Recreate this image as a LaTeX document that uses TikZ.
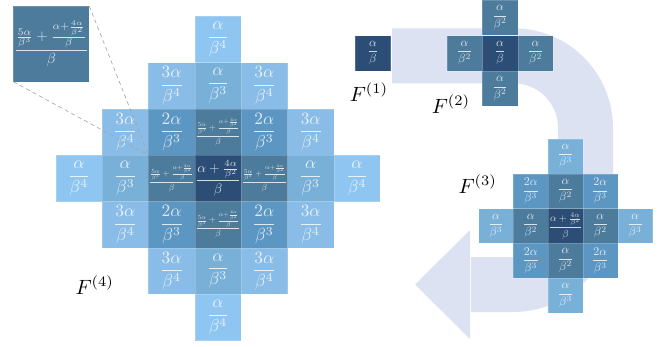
\documentclass[tikz,border=0pt]{standalone}
\usepackage{amsmath}
\usepackage{graphicx}
\definecolor{cDark}{RGB}{44,77,117}
\definecolor{cMid}{RGB}{76,123,156}
\definecolor{cTwo}{RGB}{92,150,194}
\definecolor{cThree}{RGB}{120,176,216}
\definecolor{cThreeFour}{RGB}{137,188,230}
\definecolor{cFour}{RGB}{143,198,241}
\definecolor{lav}{RGB}{221,226,243}
\newcommand{\Xfrac}{\displaystyle\frac{\frac{5\alpha}{\beta^3}+\frac{\alpha+\frac{4\alpha}{\beta^2}}{\beta}}{\beta}}
\newcommand{\Cfrac}{\displaystyle\frac{\alpha+\frac{4\alpha}{\beta^2}}{\beta}}
\newcommand{\Cell}[6]{\node[#1, fill=#5] (#2) at ({\cx+#3*\s},{\cy+#4*\s}) {\scalebox{\sc}{#6}};}
\newcommand{\Rcell}[6]{\node[#1, fill=#5] (#2) at ({\cx+#3*\s},{\cy+#4*\s}) {#6};}
\begin{document}
\begin{tikzpicture}[x=0.75pt,y=-0.75pt,
  cellbase/.style={rectangle, inner sep=0pt, outer sep=0pt, text=white, text opacity=0.8, draw=white, draw opacity=0.18, line width=0.3pt, anchor=center},
  cellF/.style={cellbase, minimum size=34.76pt},
  cellT/.style={cellbase, minimum size=26.1pt},
  cellD/.style={cellbase, minimum size=26.6pt},
  lab/.style={inner sep=0pt},
  bigarrow/.style={draw=lav, line width=41.25pt, rounded corners=54pt},
  zoomline/.style={draw=black!35, line width=0.5pt, dash pattern=on 3pt off 2.5pt}
]
\useasboundingbox (0,0) rectangle (670,346);
% big U-shaped arrow
\coordinate (A0) at (392,55.8);
\coordinate (A1) at (585.5,55.8);
\coordinate (A2) at (585.5,284.5);
\coordinate (A3) at (471,284.5);
\draw[bigarrow] (A0) -- (A1) -- (A2) -- (A3);
\coordinate (T1) at (470,230);
\coordinate (T2) at (415,284.5);
\coordinate (T3) at (470,339);
\fill[lav] (T1) -- (T2) -- (T3) -- cycle;

% F(1)
\def\sc{0.9}
\def\cx{372.9}\def\cy{53.3}\def\s{35.5}
\Cell{cellD}{p0}{0}{0}{cDark}{$\dfrac{\alpha}{\beta}$}

% F(2)
\def\cx{500}\def\cy{53.25}\def\s{35.5}
\Cell{cellD}{q0}{0}{0}{cDark}{$\dfrac{\alpha}{\beta}$}
\Cell{cellD}{qn}{0}{-1}{cMid}{$\dfrac{\alpha}{\beta^2}$}
\Cell{cellD}{qs}{0}{1}{cMid}{$\dfrac{\alpha}{\beta^2}$}
\Cell{cellD}{qw}{-1}{0}{cMid}{$\dfrac{\alpha}{\beta^2}$}
\Cell{cellD}{qe}{1}{0}{cMid}{$\dfrac{\alpha}{\beta^2}$}

% F(3)
\def\cx{565.5}\def\cy{225.9}\def\s{34.8}
\Cell{cellT}{r1}{0}{-2}{cThree}{$\dfrac{\alpha}{\beta^3}$}
\Cell{cellT}{r2}{-1}{-1}{cTwo}{$\dfrac{2\alpha}{\beta^3}$}
\Cell{cellT}{r3}{0}{-1}{cMid}{$\dfrac{\alpha}{\beta^2}$}
\Cell{cellT}{r4}{1}{-1}{cTwo}{$\dfrac{2\alpha}{\beta^3}$}
\Cell{cellT}{r5}{-2}{0}{cThree}{$\dfrac{\alpha}{\beta^3}$}
\Cell{cellT}{r6}{-1}{0}{cMid}{$\dfrac{\alpha}{\beta^2}$}
\Rcell{cellT}{r7}{0}{0}{cDark}{\resizebox{25pt}{!}{$\Cfrac$}}
\Cell{cellT}{r8}{1}{0}{cMid}{$\dfrac{\alpha}{\beta^2}$}
\Cell{cellT}{r9}{2}{0}{cThree}{$\dfrac{\alpha}{\beta^3}$}
\Cell{cellT}{r10}{-1}{1}{cTwo}{$\dfrac{2\alpha}{\beta^3}$}
\Cell{cellT}{r11}{0}{1}{cMid}{$\dfrac{\alpha}{\beta^2}$}
\Cell{cellT}{r12}{1}{1}{cTwo}{$\dfrac{2\alpha}{\beta^3}$}
\Cell{cellT}{r13}{0}{2}{cThree}{$\dfrac{\alpha}{\beta^3}$}

% F(4)
\def\sc{1.3}
\def\cx{218}\def\cy{178.4}\def\s{46.35}
\Cell{cellF}{a1}{0}{-3}{cFour}{$\dfrac{\alpha}{\beta^4}$}
\Cell{cellF}{a2}{-1}{-2}{cThreeFour}{$\dfrac{3\alpha}{\beta^4}$}
\Cell{cellF}{a3}{0}{-2}{cThree}{$\dfrac{\alpha}{\beta^3}$}
\Cell{cellF}{a4}{1}{-2}{cThreeFour}{$\dfrac{3\alpha}{\beta^4}$}
\Cell{cellF}{b1}{-2}{-1}{cThreeFour}{$\dfrac{3\alpha}{\beta^4}$}
\Cell{cellF}{b2}{-1}{-1}{cTwo}{$\dfrac{2\alpha}{\beta^3}$}
\Rcell{cellF}{b3}{0}{-1}{cMid}{\resizebox{33.5pt}{!}{$\Xfrac$}}
\Cell{cellF}{b4}{1}{-1}{cTwo}{$\dfrac{2\alpha}{\beta^3}$}
\Cell{cellF}{b5}{2}{-1}{cThreeFour}{$\dfrac{3\alpha}{\beta^4}$}
\Cell{cellF}{c1}{-3}{0}{cFour}{$\dfrac{\alpha}{\beta^4}$}
\Cell{cellF}{c2}{-2}{0}{cThree}{$\dfrac{\alpha}{\beta^3}$}
\Rcell{cellF}{xl}{-1}{0}{cMid}{\resizebox{33.5pt}{!}{$\Xfrac$}}
\Rcell{cellF}{c4}{0}{0}{cDark}{\resizebox{33.5pt}{!}{$\Cfrac$}}
\Rcell{cellF}{c5}{1}{0}{cMid}{\resizebox{33.5pt}{!}{$\Xfrac$}}
\Cell{cellF}{c6}{2}{0}{cThree}{$\dfrac{\alpha}{\beta^3}$}
\Cell{cellF}{c7}{3}{0}{cFour}{$\dfrac{\alpha}{\beta^4}$}
\Cell{cellF}{d1}{-2}{1}{cThreeFour}{$\dfrac{3\alpha}{\beta^4}$}
\Cell{cellF}{d2}{-1}{1}{cTwo}{$\dfrac{2\alpha}{\beta^3}$}
\Rcell{cellF}{d3}{0}{1}{cMid}{\resizebox{33.5pt}{!}{$\Xfrac$}}
\Cell{cellF}{d4}{1}{1}{cTwo}{$\dfrac{2\alpha}{\beta^3}$}
\Cell{cellF}{d5}{2}{1}{cThreeFour}{$\dfrac{3\alpha}{\beta^4}$}
\Cell{cellF}{e1}{-1}{2}{cThreeFour}{$\dfrac{3\alpha}{\beta^4}$}
\Cell{cellF}{e2}{0}{2}{cThree}{$\dfrac{\alpha}{\beta^3}$}
\Cell{cellF}{e3}{1}{2}{cThreeFour}{$\dfrac{3\alpha}{\beta^4}$}
\Cell{cellF}{f1}{0}{3}{cFour}{$\dfrac{\alpha}{\beta^4}$}

% zoom inset
\node[cellbase, fill=cMid, minimum width=57pt, minimum height=56.8pt] (inset) at (51.3,43.85) {\resizebox{55.5pt}{!}{$\Xfrac$}};
\draw[zoomline] (inset.north east) -- (xl.north west);
\draw[zoomline] (inset.south west) -- (xl.north west);

% labels
\node[lab] (L1) at (369,92) {\scalebox{1.55}{$F^{(1)}$}};
\node[lab] (L2) at (451,104) {\scalebox{1.55}{$F^{(2)}$}};
\node[lab] (L3) at (477.7,184) {\scalebox{1.55}{$F^{(3)}$}};
\node[lab] (L4) at (94.7,285) {\scalebox{1.55}{$F^{(4)}$}};
\end{tikzpicture}
\end{document}
